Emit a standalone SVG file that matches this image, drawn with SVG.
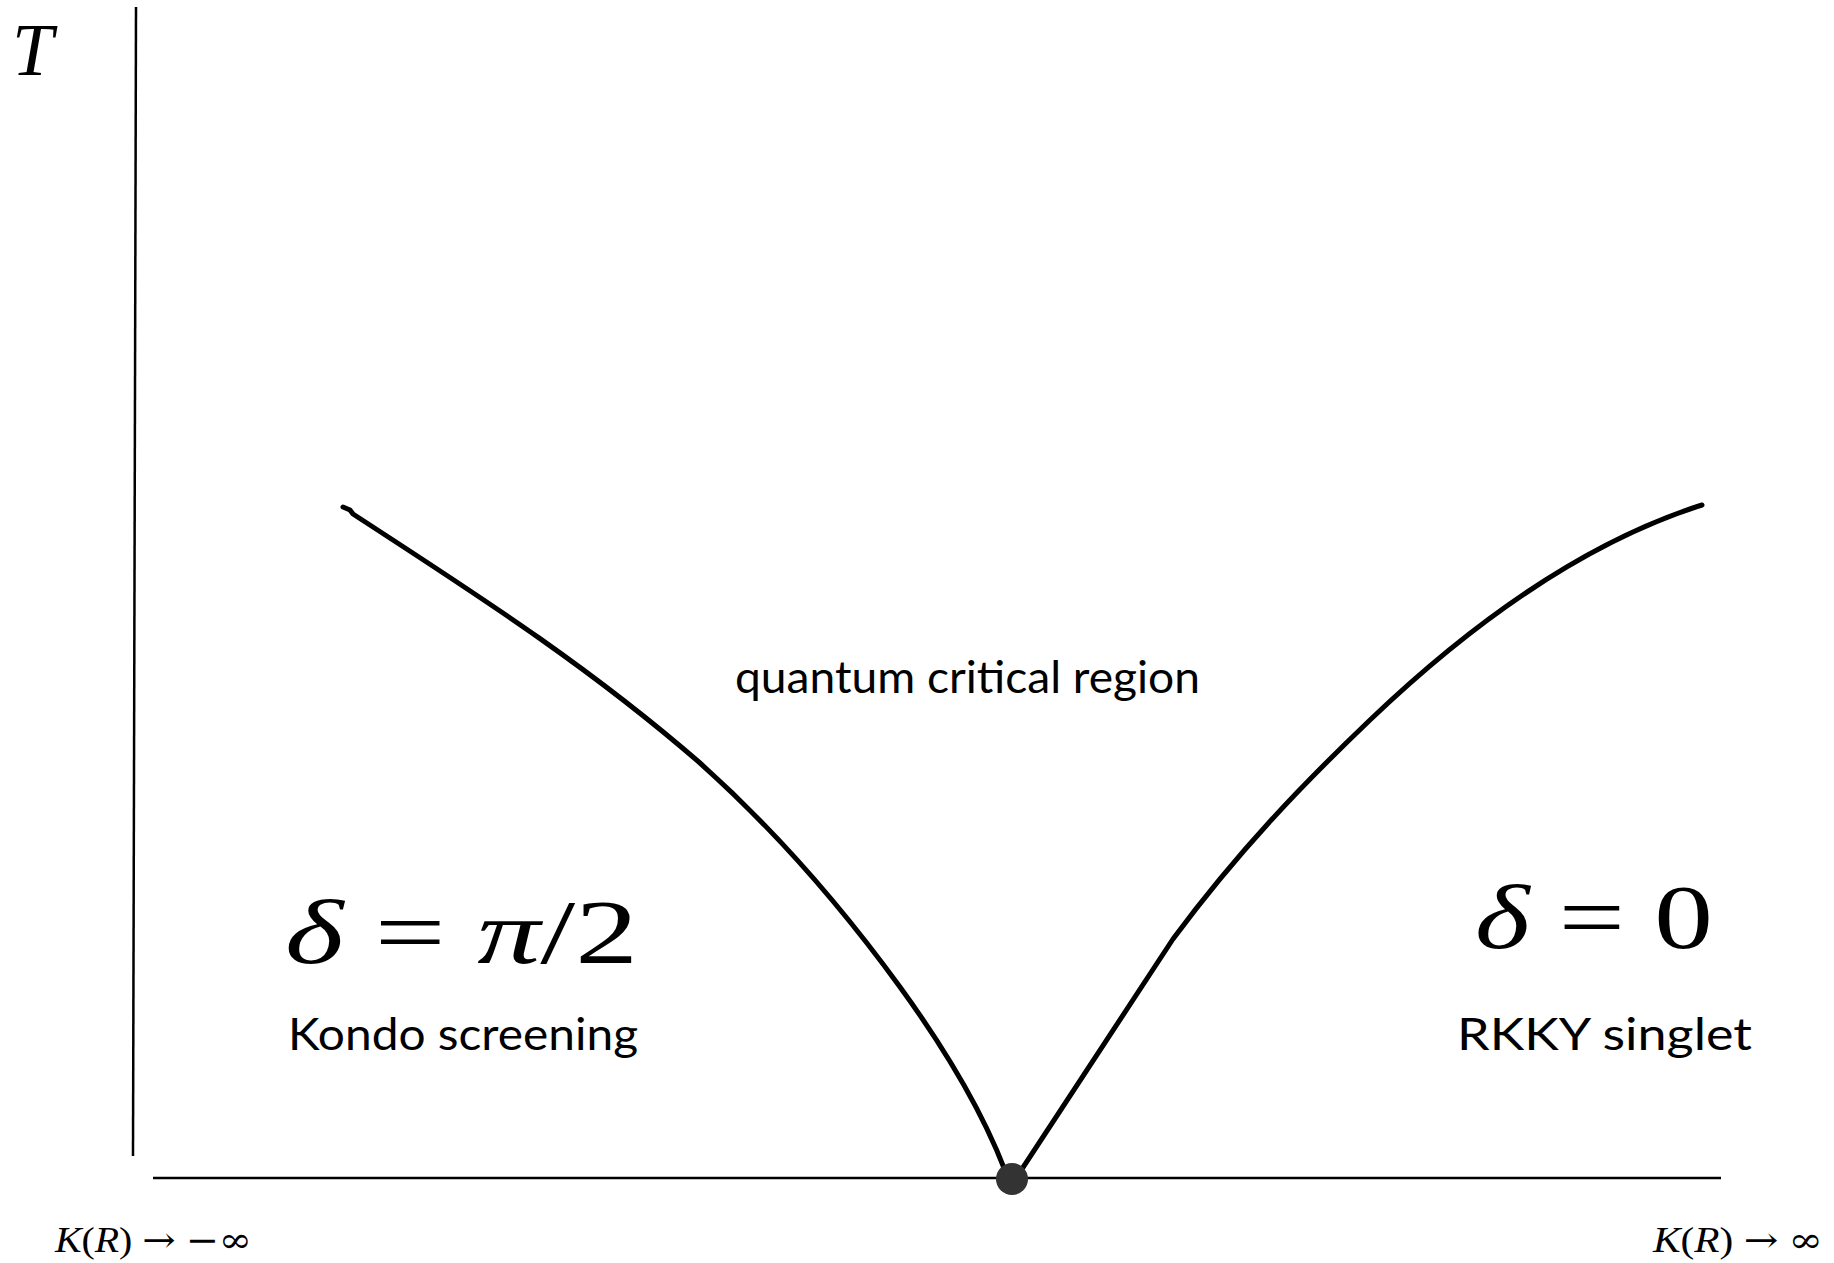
<svg xmlns="http://www.w3.org/2000/svg" width="1834" height="1263" viewBox="0 0 1834 1263">
<style>
.axis{stroke:#000;stroke-width:2.5;fill:none}
.curve{stroke:#000;stroke-width:5;fill:none;stroke-linecap:round;stroke-linejoin:round}
.math{font-family:"Liberation Serif",serif;fill:#000}
.it{font-style:italic}
.sym{font-family:"DejaVu Serif",serif;font-style:normal}
.lbl{font-family:"Lato","Open Sans",sans-serif;fill:#000}
</style>
<rect width="1834" height="1263" fill="#fff"/>
<g id="connectors">
<line class="axis" x1="136" y1="7" x2="133" y2="1156"/>
<line class="axis" x1="153" y1="1178" x2="1721" y2="1178"/>
<path class="curve" d="M343,507 L350,510 L353,514 C468,589 585,663 700,763 C767,823 833,895 900,987 C940,1042 987,1115 1012,1190"/>
<path class="curve" d="M1018,1175 L1020,1172 L1173,939 C1239,850 1304,783 1370,720 C1480,615 1592,540 1702,505"/>
</g>
<g id="qcp"><circle cx="1012" cy="1179" r="16" fill="#333"/></g>
<g id="axis-labels">
<text class="math it" x="12" y="75" font-size="74">T</text>
<text class="math" x="55" y="1252" font-size="35" textLength="197" lengthAdjust="spacingAndGlyphs"><tspan class="it">K</tspan>(<tspan class="it">R</tspan>) <tspan class="sym">→</tspan> <tspan class="sym">−∞</tspan></text>
<text class="math" x="1653" y="1252" font-size="35" textLength="170" lengthAdjust="spacingAndGlyphs"><tspan class="it">K</tspan>(<tspan class="it">R</tspan>) <tspan class="sym">→</tspan> <tspan class="sym">∞</tspan></text>
</g>
<g id="region-qc"><text class="lbl" x="735" y="693" font-size="44" textLength="465" lengthAdjust="spacingAndGlyphs">quantum critical region</text></g>
<g id="region-kondo">
<text class="math" x="285" y="963" font-size="92" textLength="353" lengthAdjust="spacingAndGlyphs"><tspan class="it">δ</tspan> = <tspan class="it">π</tspan>/2</text>
<text class="lbl" x="288" y="1050" font-size="44" textLength="350" lengthAdjust="spacingAndGlyphs">Kondo screening</text>
</g>
<g id="region-rkky">
<text class="math" x="1475" y="948" font-size="92" textLength="238" lengthAdjust="spacingAndGlyphs"><tspan class="it">δ</tspan> = 0</text>
<text class="lbl" x="1457" y="1050" font-size="44" textLength="295" lengthAdjust="spacingAndGlyphs">RKKY singlet</text>
</g>
</svg>
